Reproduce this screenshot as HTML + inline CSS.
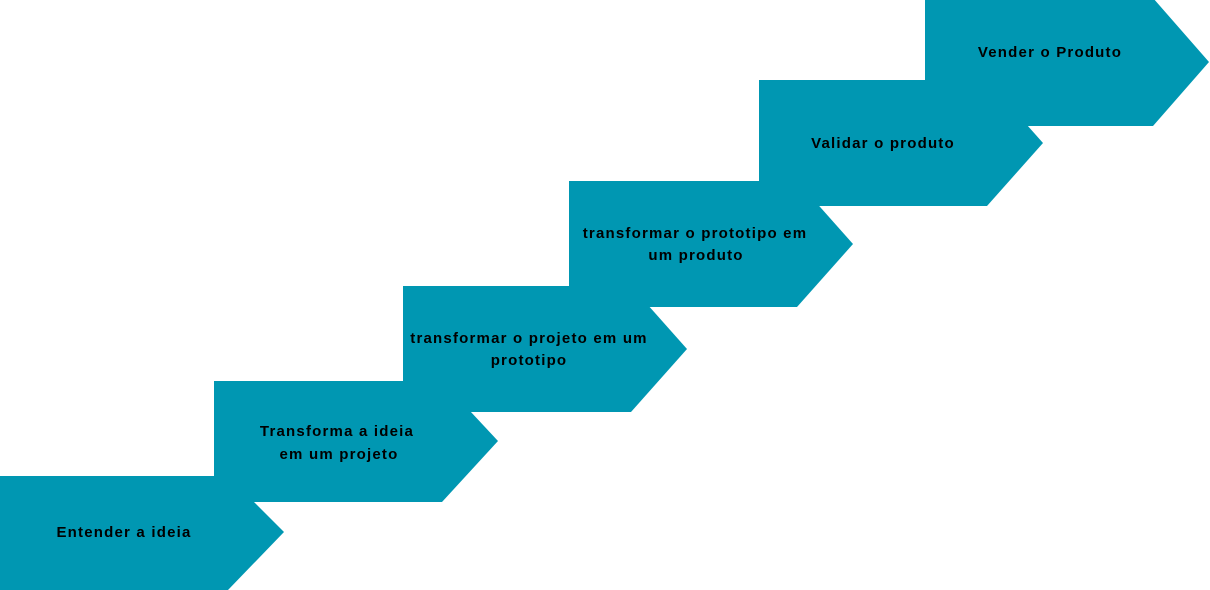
<!DOCTYPE html>
<html><head><meta charset="utf-8"><style>html,body{margin:0;padding:0;background:#fff;}svg{display:block}</style></head>
<body>
<svg width="1210" height="590" viewBox="0 0 1210 590" xmlns="http://www.w3.org/2000/svg">
<g fill="#0097b2">
<polygon points="0,476 228,476 284,532 228,590 0,590"/>
<polygon points="214,381 442,381 498,441 442,502 214,502"/>
<polygon points="403,286 631,286 687,349 631,412 403,412"/>
<polygon points="569,181 797,181 853,244 797,307 569,307"/>
<polygon points="759,80 987,80 1043,143 987,206 759,206"/>
<polygon points="925,-2 1153,-2 1209,62 1153,126 925,126"/>
</g>
<g font-family="Liberation Sans, sans-serif" font-weight="bold" font-size="15" fill="#000" text-anchor="middle" letter-spacing="1.2">
<text x="124" y="537">Entender a ideia</text>
<text x="337" y="436">Transforma a ideia</text>
<text x="339" y="459">em um projeto</text>
<text x="529" y="343">transformar o projeto em um</text>
<text x="529" y="365">prototipo</text>
<text x="695" y="238">transformar o prototipo em</text>
<text x="696" y="260">um produto</text>
<text x="883" y="148">Validar o produto</text>
<text x="1050" y="57">Vender o Produto</text>
</g>
</svg>
</body></html>
